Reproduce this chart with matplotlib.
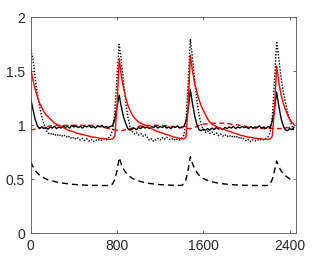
import numpy as np
import matplotlib
matplotlib.use("Agg")
import matplotlib.pyplot as plt

plt.rcParams['font.family'] = ['Liberation Sans', 'DejaVu Sans']

# time grid (step 20)
t = np.arange(0, 2441, 20)

# red solid
red_solid = [
    1.53, 1.42, 1.34, 1.27, 1.21, 1.17, 1.13, 1.10, 1.08, 1.06,
    1.04, 1.02, 1.01, 1.00, 0.99, 0.98, 0.97, 0.96, 0.95, 0.945,
    0.94, 0.93, 0.925, 0.92, 0.915, 0.91, 0.905, 0.90, 0.895, 0.89,
    0.89, 0.885, 0.88, 0.88, 0.875, 0.875, 0.87, 0.87, 0.875, 0.90,
    1.18,
    1.62, 1.46, 1.35, 1.26, 1.19, 1.14, 1.10, 1.07, 1.05, 1.03,
    1.02, 1.01, 1.00, 0.99, 0.98, 0.97, 0.96, 0.95, 0.94, 0.935,
    0.93, 0.92, 0.915, 0.91, 0.90, 0.895, 0.89, 0.885, 0.88, 0.875,
    0.875, 0.89, 1.18,
    1.65, 1.50, 1.39, 1.31, 1.24, 1.18, 1.14, 1.10, 1.06, 1.03,
    1.01, 1.00, 0.99, 0.98, 0.97, 0.965, 0.96, 0.95, 0.945, 0.94,
    0.93, 0.925, 0.92, 0.91, 0.905, 0.90, 0.895, 0.89, 0.89, 0.885,
    0.88, 0.88, 0.875, 0.875, 0.87, 0.87, 0.87, 0.875, 0.90, 1.15,
    1.55, 1.40, 1.29, 1.21, 1.15, 1.10, 1.06, 1.03, 1.01,
]

# red dashed
red_dashed = [
    0.96, 0.96, 0.965, 0.97, 0.975, 0.98, 0.985, 0.99, 0.99, 0.995,
    0.995, 1.0, 1.0, 1.0, 1.0, 1.0, 1.0, 1.0, 1.0, 1.0,
    1.0, 1.0, 1.0, 1.0, 1.0, 1.0, 1.0, 1.0, 1.0, 1.0,
    1.0, 0.995, 0.99, 0.985, 0.98, 0.975, 0.97, 0.965, 0.96, 0.96,
    0.955,
    0.95, 0.95, 0.955, 0.96, 0.965, 0.97, 0.975, 0.98, 0.985, 0.99,
    0.995, 0.995, 1.0, 1.0, 1.0, 1.0, 1.0, 1.0, 1.0, 1.0,
    1.0, 0.995, 0.995, 0.99, 0.99, 0.99, 0.985, 0.985, 0.98, 0.98,
    0.975, 0.975, 0.97,
    0.97, 0.975, 0.98, 0.99, 1.0, 1.005, 1.01, 1.015, 1.015, 1.02,
    1.02, 1.02, 1.02, 1.02, 1.02, 1.02, 1.02, 1.015, 1.015, 1.01,
    1.01, 1.005, 1.005, 1.0, 1.0, 0.995, 0.99, 0.985, 0.98, 0.975,
    0.975, 0.97, 0.97, 0.97, 0.97, 0.97, 0.97, 0.97, 0.97, 0.97,
    0.97, 0.97, 0.97, 0.975, 0.975, 0.98, 0.98, 0.985, 0.985,
]

# black dashed
black_dashed = [
    0.66, 0.62, 0.585, 0.56, 0.54, 0.525, 0.515, 0.505, 0.495, 0.49,
    0.485, 0.48, 0.475, 0.47, 0.468, 0.465, 0.462, 0.46, 0.458, 0.455,
    0.453, 0.452, 0.45, 0.449, 0.448, 0.447, 0.446, 0.445, 0.445, 0.444,
    0.444, 0.444, 0.444, 0.443, 0.443, 0.443, 0.443, 0.443, 0.46, 0.50,
    0.58,
    0.70, 0.64, 0.595, 0.565, 0.54, 0.525, 0.51, 0.50, 0.49, 0.485,
    0.48, 0.475, 0.47, 0.466, 0.462, 0.46, 0.457, 0.455, 0.453, 0.451,
    0.45, 0.449, 0.448, 0.447, 0.446, 0.445, 0.445, 0.444, 0.444, 0.444,
    0.46, 0.50, 0.59,
    0.71, 0.645, 0.60, 0.565, 0.54, 0.52, 0.508, 0.498, 0.49, 0.484,
    0.478, 0.473, 0.469, 0.465, 0.462, 0.459, 0.457, 0.455, 0.453, 0.451,
    0.45, 0.449, 0.448, 0.447, 0.446, 0.445, 0.445, 0.444, 0.444, 0.444,
    0.443, 0.443, 0.443, 0.443, 0.443, 0.443, 0.445, 0.46, 0.50, 0.58,
    0.67, 0.62, 0.58, 0.555, 0.535, 0.52, 0.505, 0.495, 0.485,
]

# black solid
black_solid = [
    1.25, 1.15, 1.06, 1.00, 0.97, 0.985, 0.97, 0.98, 0.965, 0.985,
    0.975, 0.99, 0.97, 0.985, 0.975, 0.995, 0.98, 0.99, 0.975, 1.0,
    0.985, 0.995, 0.98, 0.99, 0.975, 0.995, 0.985, 1.0, 0.98, 0.99,
    0.975, 0.995, 0.985, 1.0, 0.98, 0.99, 0.98, 0.99, 1.0, 1.06,
    1.17,
    1.28, 1.17, 1.08, 1.02, 0.97, 0.955, 0.965, 0.975, 0.96, 0.98,
    0.97, 0.99, 0.975, 0.985, 0.97, 0.99, 0.98, 0.995, 0.975, 0.99,
    0.98, 0.995, 0.975, 0.985, 0.97, 0.99, 0.98, 0.995, 0.975, 0.985,
    0.99, 1.04, 1.15,
    1.33, 1.20, 1.09, 1.01, 0.96, 0.95, 0.965, 0.955, 0.97, 0.955,
    0.975, 0.96, 0.98, 0.965, 0.975, 0.96, 0.98, 0.97, 0.985, 0.975,
    0.99, 0.97, 0.985, 0.975, 0.99, 0.98, 0.985, 0.97, 0.99, 0.975,
    0.985, 0.98, 0.995, 0.975, 0.985, 0.97, 0.99, 0.98, 1.04, 1.15,
    1.31, 1.18, 1.07, 1.0, 0.96, 0.95, 0.97, 0.96, 0.98,
]

# black dotted
black_dotted = [
    1.70, 1.62, 1.45, 1.30, 1.19, 1.09, 1.02, 0.96, 0.93, 0.915,
    0.93, 0.905, 0.92, 0.90, 0.915, 0.895, 0.91, 0.885, 0.90, 0.875,
    0.89, 0.87, 0.885, 0.865, 0.88, 0.86, 0.875, 0.855, 0.87, 0.85,
    0.865, 0.855, 0.87, 0.86, 0.875, 0.865, 0.88, 0.905, 0.96, 1.13,
    1.45,
    1.75, 1.60, 1.40, 1.22, 1.08, 0.99, 0.945, 0.92, 0.935, 0.91,
    0.925, 0.90, 0.915, 0.89, 0.86, 0.875, 0.85, 0.87, 0.88, 0.865,
    0.885, 0.87, 0.89, 0.875, 0.865, 0.88, 0.86, 0.875, 0.865, 0.88,
    0.91, 1.05, 1.40,
    1.80, 1.62, 1.42, 1.24, 1.10, 1.01, 0.96, 0.935, 0.95, 0.925,
    0.94, 0.915, 0.93, 0.905, 0.92, 0.90, 0.915, 0.895, 0.91, 0.89,
    0.905, 0.885, 0.90, 0.875, 0.89, 0.87, 0.855, 0.87, 0.85, 0.865,
    0.855, 0.87, 0.86, 0.875, 0.865, 0.88, 0.895, 0.93, 1.08, 1.40,
    1.78, 1.62, 1.45, 1.32, 1.22, 1.13, 1.06, 1.0, 0.95,
]

xticks = [0, 800, 1600, 2400]
xticklabels = ["0", "800", "1600", "2400"]
yticks = [0, 0.5, 1, 1.5, 2]
yticklabels = ["0", "0.5", "1", "1.5", "2"]

fig = plt.figure(figsize=(3.27, 2.59), dpi=100)
ax = fig.add_axes([0.094, 0.099, 0.810, 0.834])

lw = 1.0
ax.plot(t, black_dashed, color='black', lw=lw, linestyle=(0, (4.3, 2.9)))
ax.plot(t, red_dashed, color='red', lw=lw, linestyle=(0, (3.6, 2.4)))
ax.plot(t, black_dotted, color='black', lw=lw, linestyle=(0, (1.0, 1.2)))
ax.plot(t, black_solid, color='black', lw=lw)
ax.plot(t, red_solid, color='red', lw=lw)

ax.set_xlim(0, 2456)
ax.set_ylim(0, 2)
ax.set_xticks(xticks)
ax.set_xticklabels(xticklabels)
ax.set_yticks(yticks)
ax.set_yticklabels(yticklabels)

for s in ax.spines.values():
    s.set_linewidth(0.6)
    s.set_color('#555555')
ax.tick_params(direction='in', length=2.5, width=0.6, color='#555555',
               top=True, right=True, labelsize=10, labelcolor='#262626', pad=4)

fig.savefig("out.png", dpi=100)
